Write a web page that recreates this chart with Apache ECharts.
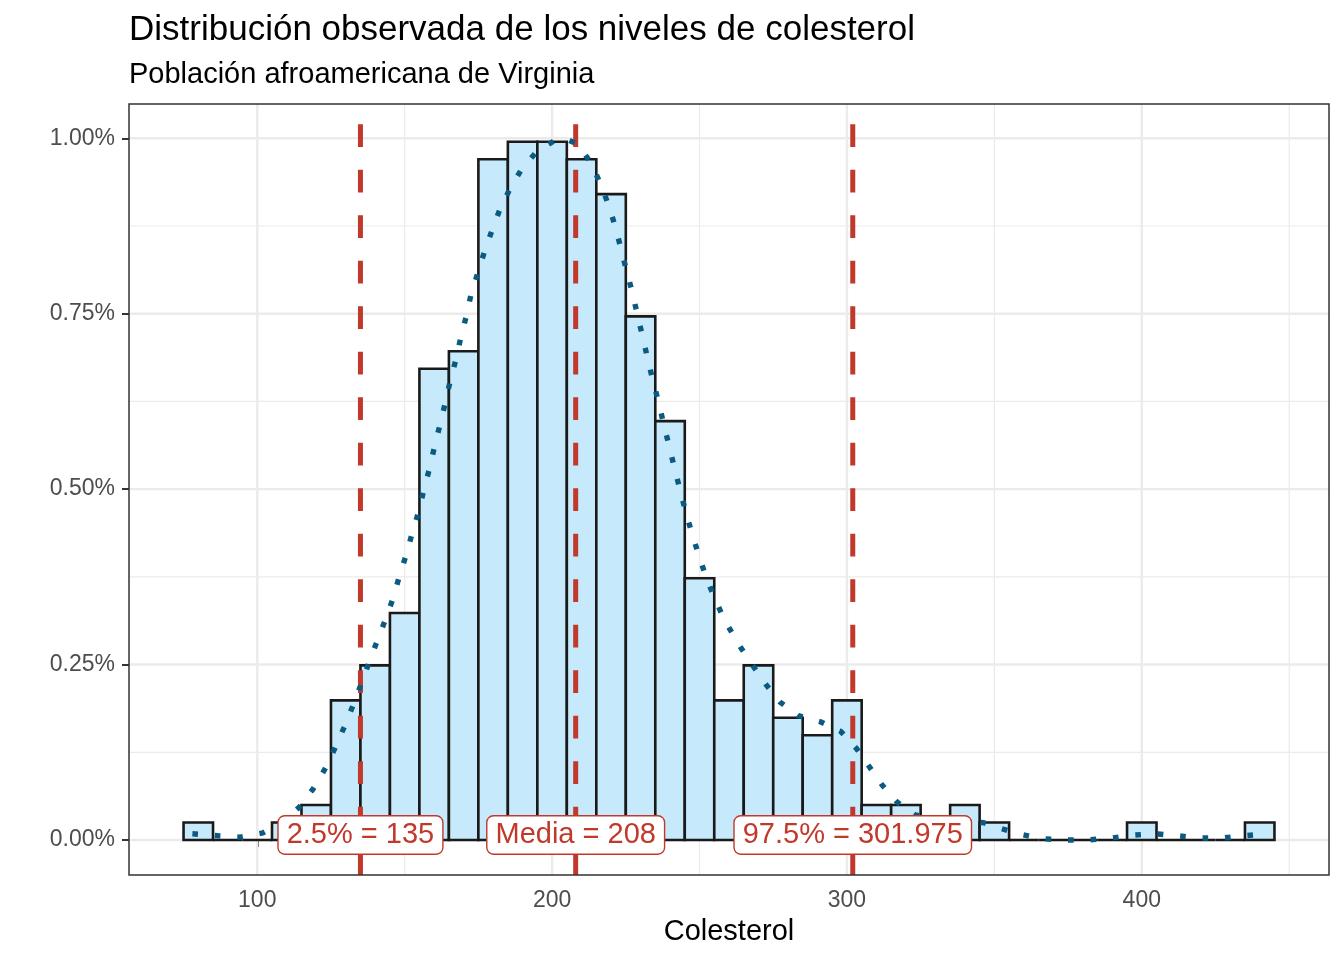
<!DOCTYPE html>
<html>
<head>
<meta charset="utf-8">
<script src="https://cdn.jsdelivr.net/npm/echarts@6/dist/echarts.min.js"></script>
<style>
html,body{margin:0;padding:0;background:#fff;}
#chart{width:1344px;height:960px;}
</style>
</head>
<body>
<div id="chart"></div>
<script>
// ---- data ----
const titleText = 'Distribución observada de los niveles de colesterol';
const subtitleText = 'Población afroamericana de Virginia';
const xAxisTitle = 'Colesterol';

// histogram bins (lower / upper edges) and density in percent
const binLower = [75,85,95,105,115,125,135,145,155,165,175,185,195,205,215,225,235,245,255,265,275,285,295,305,315,325,335,345,355,365,375,385,395,405,415,425,435];
const binUpper = [85,95,105,115,125,135,145,155,165,175,185,195,205,215,225,235,245,255,265,275,285,295,305,315,325,335,345,355,365,375,385,395,405,415,425,435,445];
const binHeight = [0.0249,0,0,0.0249,0.0498,0.199,0.2488,0.3234,0.6716,0.6965,0.9701,0.995,0.995,0.9701,0.9204,0.7463,0.597,0.3731,0.199,0.2488,0.1741,0.1493,0.199,0.0498,0.0498,0,0.0498,0.0249,0,0,0,0,0.0249,0,0,0,0.0249];

// kernel density curve (percent)
const densX = [78,79.0,86.6,94.2,101.9,108.2,114.3,118.9,122.9,126.2,129.4,132.3,134.9,137.7,140.4,143.2,145.8,148.0,150.3,152.4,154.6,156.4,158.4,160.1,162.0,163.8,165.5,167.5,168.9,170.8,172.5,174.8,177.1,179.7,182.4,185.8,189.7,194.8,201.3,204.8,208.7,213.1,216.3,219.1,221.4,223.3,225.2,227.2,228.9,230.7,232.4,234.2,236.2,237.9,239.8,241.6,243.5,245.4,247.6,249.9,252.4,255.3,258.5,263.8,268.1,272.5,277.3,283.5,291.0,297.9,303.2,307.6,312.0,317.0,323.2,331.5,339.0,346.4,351.0,358.3,366.0,373.6,381.4,389.1,396.7,404.2,412.0,419.6,427.4,435.0,441.8,443];
const densY = [0.0088,0.0085,0.0060,0.0040,0.0100,0.0240,0.0470,0.0726,0.1007,0.1296,0.1600,0.1899,0.2184,0.2507,0.2806,0.3110,0.3412,0.3728,0.4036,0.4349,0.4662,0.4972,0.5292,0.5603,0.5922,0.6235,0.6553,0.6866,0.7137,0.7450,0.7774,0.8081,0.8390,0.8699,0.8999,0.9288,0.9563,0.9810,0.9981,0.9990,0.9915,0.9654,0.9363,0.9056,0.8746,0.8437,0.8120,0.7806,0.7489,0.7175,0.6862,0.6543,0.6229,0.5916,0.5598,0.5285,0.4972,0.4662,0.4345,0.4036,0.3728,0.3429,0.3134,0.2754,0.2483,0.2218,0.1966,0.1771,0.1685,0.1548,0.1306,0.1044,0.0779,0.0541,0.0356,0.0300,0.0285,0.0246,0.0181,0.0085,0.0019,0,0,0.0024,0.0067,0.0090,0.0061,0.0028,0.0028,0.0061,0.0085,0.0088];

// reference lines
const vlineValues = [135, 208, 301.975];
const vlineLabels = ['2.5% = 135', 'Media = 208', '97.5% = 301.975'];

// axes
const xMin = 56.5, xMax = 463.5;
const yMin = -0.0499, yMax = 1.0489;
const xTicks = [100, 200, 300, 400];
const xMinorTicks = [150, 250, 350, 450];
const yTicks = [0, 0.25, 0.5, 0.75, 1.0];
const yTickLabels = ['0.00%', '0.25%', '0.50%', '0.75%', '1.00%'];
const yMinorTicks = [0.125, 0.375, 0.625, 0.875];

// ---- styles ----
const FONT = '"Liberation Sans", Arial, Helvetica, sans-serif';
const RED = '#C0392B';
const BLUE = '#0A5A82';

const chart = echarts.init(document.getElementById('chart'), null, {renderer: 'canvas'});

// grid line items: [value, orient(0 vertical / 1 horizontal), major(1/0)]
const gridItems = [];
xMinorTicks.forEach(v => gridItems.push([v, 0, 0]));
yMinorTicks.forEach(v => gridItems.push([v, 1, 0]));
xTicks.forEach(v => gridItems.push([v, 0, 1]));
yTicks.forEach(v => gridItems.push([v, 1, 1]));

const barData = binLower.map((lo, i) => [lo, binUpper[i], binHeight[i]]);
const densData = densX.map((x, i) => [x, densY[i]]);

const vlineSeries = vlineValues.map(v => ({
  type: 'line',
  data: [[v, yMin], [v, yMax]],
  showSymbol: false,
  symbol: 'none',
  silent: true,
  z: 4,
  lineStyle: {color: RED, width: 5, type: [22.75, 22.75], cap: 'butt', opacity: 1}
}));

const option = {
  animation: false,
  backgroundColor: '#ffffff',
  grid: {left: 129, right: 15, top: 104, bottom: 85, show: false, containLabel: false},
  xAxis: {
    type: 'value', min: xMin, max: xMax,
    splitLine: {show: false},
    axisLine: {show: false},
    axisTick: {show: true, customValues: xTicks, length: 7, lineStyle: {color: '#333333', width: 2}},
    axisLabel: {customValues: xTicks, color: '#4D4D4D', fontSize: 23, fontFamily: FONT, margin: 14,
      formatter: v => String(Math.round(v))}
  },
  yAxis: {
    type: 'value', min: yMin, max: yMax,
    splitLine: {show: false},
    axisLine: {show: false},
    axisTick: {show: true, customValues: yTicks, length: 7, lineStyle: {color: '#333333', width: 2}},
    axisLabel: {customValues: yTicks, color: '#4D4D4D', fontSize: 23, fontFamily: FONT, margin: 14,
      formatter: v => {
        const i = yTicks.findIndex(t => Math.abs(t - v) < 1e-9);
        return i >= 0 ? yTickLabels[i] : '';
      }}
  },
  graphic: [
    {type: 'text', x: 129, y: 30, silent: true,
      style: {text: titleText, fontSize: 35, fontFamily: FONT, fill: '#000', align: 'left', verticalAlign: 'middle'}},
    {type: 'text', x: 129, y: 75, silent: true,
      style: {text: subtitleText, fontSize: 29, fontFamily: FONT, fill: '#000', align: 'left', verticalAlign: 'middle'}},
    {type: 'text', x: 729, y: 932, silent: true,
      style: {text: xAxisTitle, fontSize: 29, fontFamily: FONT, fill: '#000', align: 'center', verticalAlign: 'middle'}},
    {type: 'rect', shape: {x: 129, y: 104, width: 1200, height: 771}, silent: true, z: 100,
      style: {fill: 'none', stroke: '#333333', lineWidth: 1.5}}
  ],
  series: [
    {
      type: 'custom', name: 'grid', silent: true, z: 1,
      data: gridItems,
      encode: {x: 0, y: 0},
      renderItem: (params, api) => {
        const cs = params.coordSys;
        const v = api.value(0), o = api.value(1), major = api.value(2);
        let shape;
        if (o === 0) {
          const x = api.coord([v, 0])[0];
          shape = {x1: x, y1: cs.y, x2: x, y2: cs.y + cs.height};
        } else {
          const y = api.coord([xMin, v])[1];
          shape = {x1: cs.x, y1: y, x2: cs.x + cs.width, y2: y};
        }
        return {type: 'line', shape: shape, style: {stroke: '#EBEBEB', lineWidth: major ? 2.4 : 1.2}};
      }
    },
    {
      type: 'custom', name: 'hist', silent: true, z: 3,
      data: barData,
      encode: {x: [0, 1], y: 2},
      renderItem: (params, api) => {
        const p1 = api.coord([api.value(0), api.value(2)]);
        const p2 = api.coord([api.value(1), 0]);
        return {type: 'rect',
          shape: {x: p1[0], y: p1[1], width: p2[0] - p1[0], height: p2[1] - p1[1]},
          style: {fill: '#C6EAFB', stroke: '#1A1A1A', lineWidth: 2.6}};
      }
    },
    ...vlineSeries,
    {
      type: 'line', name: 'density', data: densData,
      showSymbol: false, symbol: 'none', smooth: false, silent: true, z: 5,
      lineStyle: {color: BLUE, width: 5.4, type: [5.6, 16.9], cap: 'butt', opacity: 1}
    },
    {
      type: 'custom', name: 'labels', silent: true, z: 6,
      data: vlineValues.map((v, i) => [v, 0, i]),
      encode: {x: 0, y: 1},
      renderItem: (params, api) => {
        const p = api.coord([api.value(0), api.value(1)]);
        return {
          type: 'text',
          x: p[0], y: p[1] - 5,
          style: {
            text: vlineLabels[api.value(2)],
            fill: RED, fontSize: 29, fontFamily: FONT, lineHeight: 29,
            align: 'center', verticalAlign: 'middle',
            backgroundColor: '#ffffff', borderColor: RED, borderWidth: 1.4, borderRadius: 6,
            padding: [4, 8, 4, 8], opacity: 1
          }
        };
      }
    }
  ]
};
chart.setOption(option);
</script>
</body>
</html>
